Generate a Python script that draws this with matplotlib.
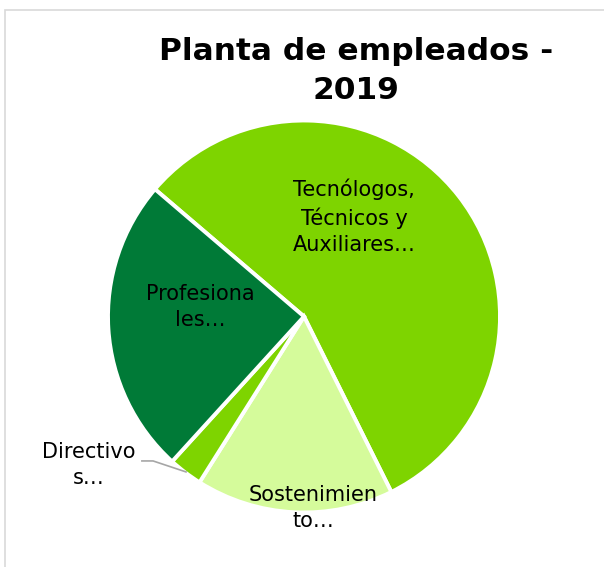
import matplotlib
matplotlib.use("Agg")
import matplotlib.pyplot as plt
from matplotlib.patches import Rectangle

categories = ["Tecnólogos,\nTécnicos y\nAuxiliares…", "Sostenimien\nto…", "Directivo\ns…", "Profesiona\nles…"]
values = [56.4, 16.3, 2.8, 24.5]
colors = ["#7ED400", "#D5FB9B", "#7ED400", "#007A37"]

# label positions (pie radius = 1)
label_pos = [(0.255, 0.508), (0.046, -0.977), (-1.097, -0.758), (-0.531, 0.048)]

W, H = 604, 567
fig = plt.figure(figsize=(W / 100, H / 100), dpi=100)

# chart frame
fig.patches.append(Rectangle((5 / W, -0.1), 1.2, (H - 10) / H + 0.1, transform=fig.transFigure,
                             fill=False, edgecolor="#D9D9D9", linewidth=1.2))

cx, cy, r = 304, 316.5, 196
ax = fig.add_axes([(cx - r) / W, (H - cy - r) / H, 2 * r / W, 2 * r / H])
ax.pie(values, colors=colors, startangle=139.5, counterclock=False,
       wedgeprops=dict(edgecolor="white", linewidth=2.8))
ax.set_xlim(-1, 1)
ax.set_ylim(-1, 1)
ax.set_aspect("equal")
ax.axis("off")

for lab, (x, y) in zip(categories, label_pos):
    ax.text(x, y, lab, ha="center", va="center", fontsize=15, color="black",
            linespacing=1.4, clip_on=False)

# leader line for Directivos
ax.plot([-0.827, -0.770, -0.602], [-0.737, -0.737, -0.793], color="#A6A6A6", lw=1.2, clip_on=False)

fig.text(356 / W, 1 - 71 / H, "Planta de empleados -\n2019", ha="center", va="center",
         fontsize=22.5, fontweight="bold", linespacing=1.4)

fig.savefig("out.png", dpi=100)
